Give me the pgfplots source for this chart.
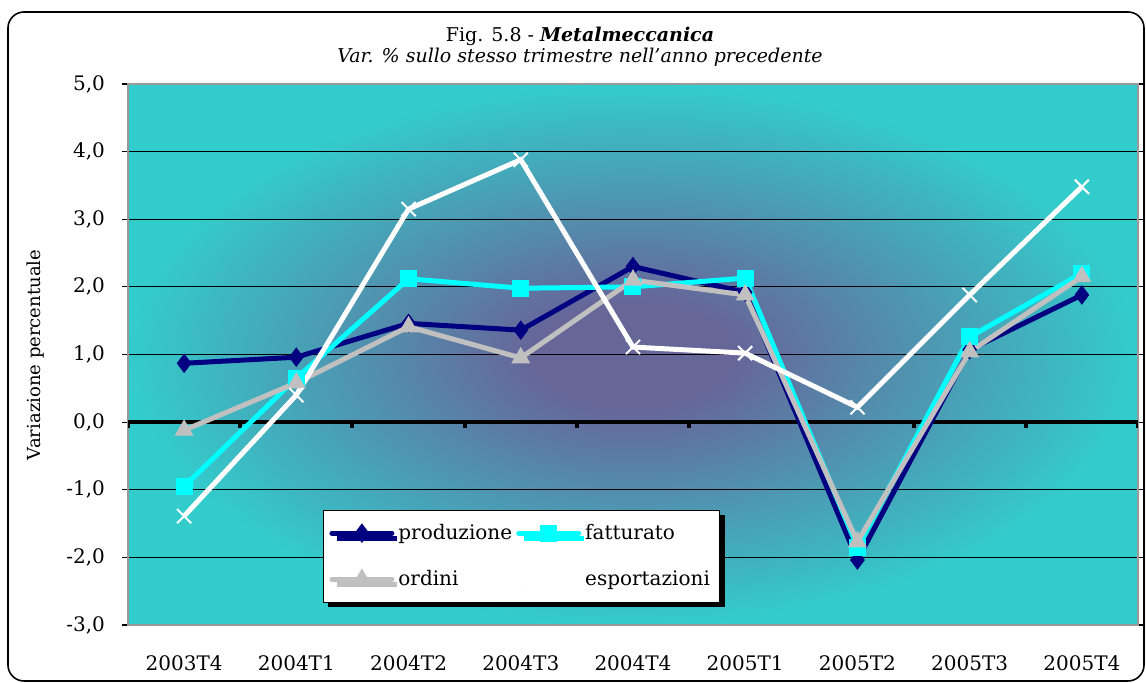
\documentclass[border=0pt]{standalone}
\usepackage{pgfplots}
\pgfplotsset{compat=1.18}
\usepackage{fontspec}
\setmainfont{DejaVu Serif}
\usetikzlibrary{shadows}
\definecolor{cnavy}{HTML}{000080}
\definecolor{ccyan}{HTML}{00FFFF}
\definecolor{cgray}{HTML}{C0C0C0}
\definecolor{cteal}{HTML}{33CCCC}
\definecolor{cpurple}{HTML}{666699}
\pgfdeclareradialshading{bgshade}{\pgfpoint{0bp}{0bp}}{color(0bp)=(cpurple); color(5bp)=(cpurple); color(25bp)=(cteal); color(50bp)=(cteal)}
\begin{document}
\fontsize{10}{12}\selectfont
\begin{tikzpicture}
\path (0,0) rectangle (573pt,341.5pt);
\draw[rounded corners=8pt, line width=0.8pt] (4pt,1pt) rectangle (572pt,335.5pt);
\node[align=center, font=\fontsize{9.5}{10.5}\selectfont] at (290pt,318pt)
  {Fig. 5.8 - \textbf{\textit{Metalmeccanica}}\\ \textit{Var. \% sullo stesso trimestre nell'anno precedente}};
\node[rotate=90] at (18pt,164pt) {\fontsize{9}{11}\selectfont Variazione percentuale};
\begin{axis}[
  at={(64pt,29pt)}, anchor=south west,
  scale only axis, width=505pt, height=270.5pt,
  xmin=-0.5, xmax=8.5, ymin=-3, ymax=5,
  ytick={-3,-2,...,5},
  xtick={0,...,8},
  xticklabels={2003T4,2004T1,2004T2,2004T3,2004T4,2005T1,2005T2,2005T3,2005T4},
  major x tick style={draw=none},
  xticklabel style={yshift=-9pt},
  y tick style={black, line width=0.6pt},
  tick align=outside, major tick length=3pt,
  yticklabel style={xshift=-5pt},
  tick label style={font=\fontsize{10}{12}\selectfont},
  /pgf/number format/assume math mode=true,
  yticklabel={\pgfmathprintnumber[fixed,fixed zerofill,precision=1,use comma]{\tick}},
  ymajorgrids, grid style={black, line width=0.5pt},
  axis line style={draw=gray!80, line width=1pt},
  axis background/.style={shading=bgshade},
  legend style={at={(0.193,0.0407)}, anchor=south west, legend columns=2,
    draw=black, fill=white, line width=0.5pt,
    drop shadow={shadow xshift=2.5pt, shadow yshift=-2.5pt, fill=black, opacity=1},
    font=\fontsize{10}{12}\selectfont, row sep=10pt, inner ysep=5pt, inner xsep=3pt,
    /tikz/every even column/.append style={column sep=0pt}},
  legend cell align=left,
  legend image code/.code={\draw[line cap=round, mark repeat=2,mark phase=2] plot coordinates {(0pt,0pt) (15pt,0pt) (30pt,0pt)};},
  every axis plot/.append style={line width=2.5pt, mark options={solid, line width=0.5pt}},
]
\draw[black, line width=2pt] (axis cs:-0.5,0) -- (axis cs:8.5,0);
\pgfplotsinvokeforeach{-0.5,0.5,1.5,2.5,3.5,4.5,5.5,6.5,7.5,8.5}{
  \draw[black, line width=2pt] (axis cs:#1,0) -- ++(0pt,-3pt);
}
\addplot[cnavy, mark=diamond*, mark size=4.5pt] coordinates {
(0,0.87) (1,0.96) (2,1.46) (3,1.36) (4,2.30) (5,1.92) (6,-2.04) (7,1.07) (8,1.88)};
\addlegendentry{produzione}
\addplot[ccyan, mark=square*, mark size=4pt] coordinates {
(0,-0.95) (1,0.65) (2,2.12) (3,1.98) (4,2.00) (5,2.13) (6,-1.85) (7,1.26) (8,2.20)};
\addlegendentry{fatturato}
\addplot[cgray, mark=triangle*, mark size=5pt] coordinates {
(0,-0.12) (1,0.58) (2,1.41) (3,0.95) (4,2.10) (5,1.88) (6,-1.77) (7,1.04) (8,2.15)};
\addlegendentry{ordini}
\addplot[white, mark=x, mark size=5pt, mark options={line width=1pt}] coordinates {
(0,-1.39) (1,0.40) (2,3.15) (3,3.88) (4,1.11) (5,1.02) (6,0.22) (7,1.88) (8,3.48)};
\addlegendentry{esportazioni}
\end{axis}
\end{tikzpicture}
\end{document}
